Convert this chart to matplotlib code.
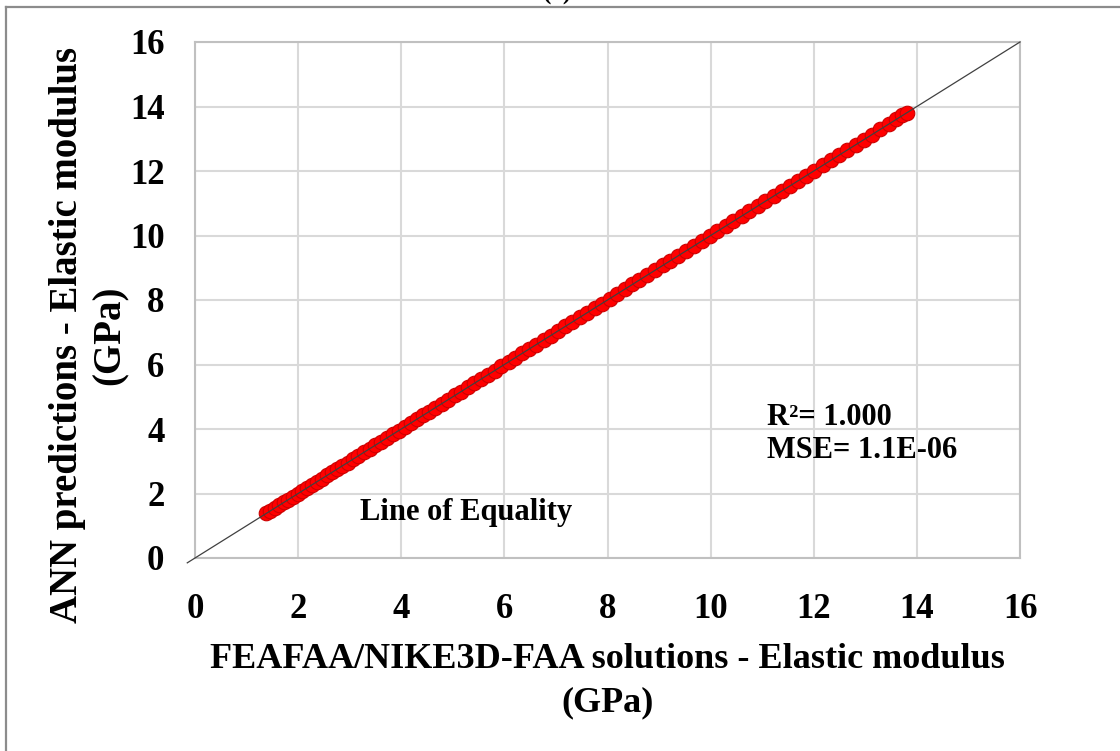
import matplotlib
matplotlib.use("Agg")
import matplotlib.pyplot as plt
from matplotlib.lines import Line2D

plt.rcParams['font.family'] = ['Liberation Serif', 'DejaVu Serif']
plt.rcParams['font.weight'] = 'bold'

# FE solutions vs ANN predictions of elastic modulus (GPa)
fe_modulus = [1.38, 1.46, 1.55, 1.63, 1.72, 1.81, 1.90, 1.99, 2.08, 2.18, 2.27,
              2.37, 2.46, 2.56, 2.66, 2.76, 2.86, 2.96, 3.07, 3.17, 3.28, 3.39,
              3.50, 3.61, 3.72, 3.84, 3.95, 4.07, 4.18, 4.30, 4.42, 4.54, 4.66,
              4.79, 4.91, 5.04, 5.16, 5.29, 5.42, 5.55, 5.68, 5.81, 5.94, 6.08,
              6.21, 6.35, 6.48, 6.62, 6.76, 6.90, 7.04, 7.18, 7.32, 7.46, 7.60,
              7.75, 7.89, 8.04, 8.18, 8.33, 8.48, 8.62, 8.77, 8.92, 9.07, 9.22,
              9.37, 9.52, 9.67, 9.83, 9.98, 10.13, 10.29, 10.44, 10.60, 10.75,
              10.91, 11.06, 11.22, 11.38, 11.53, 11.69, 11.85, 12.01, 12.17,
              12.33, 12.49, 12.65, 12.81, 12.97, 13.13, 13.29, 13.45, 13.60,
              13.72, 13.80]
ann_modulus = [1.381, 1.459, 1.551, 1.629, 1.721, 1.809, 1.901, 1.989, 2.081,
               2.179, 2.271, 2.369, 2.461, 2.559, 2.661, 2.759, 2.861, 2.959,
               3.071, 3.169, 3.281, 3.389, 3.501, 3.609, 3.721, 3.839, 3.951,
               4.069, 4.181, 4.299, 4.421, 4.539, 4.661, 4.789, 4.911, 5.039,
               5.161, 5.289, 5.421, 5.549, 5.681, 5.809, 5.941, 6.079, 6.211,
               6.349, 6.481, 6.619, 6.761, 6.899, 7.041, 7.179, 7.321, 7.459,
               7.601, 7.749, 7.891, 8.039, 8.181, 8.329, 8.481, 8.619, 8.771,
               8.919, 9.071, 9.219, 9.371, 9.519, 9.671, 9.829, 9.981, 10.129,
               10.291, 10.439, 10.601, 10.749, 10.911, 11.059, 11.221, 11.379,
               11.531, 11.689, 11.851, 12.009, 12.171, 12.329, 12.491, 12.649,
               12.811, 12.969, 13.131, 13.289, 13.451, 13.599, 13.721, 13.799]

ticks = [0, 2, 4, 6, 8, 10, 12, 14, 16]
r2_text = "R\u00b2= 1.000"
mse_text = "MSE= 1.1E-06"

fig = plt.figure(figsize=(11.2, 7.51), dpi=100)
ax = fig.add_axes([195 / 1120, 1 - 558 / 751, 825 / 1120, 516 / 751])

# frame around the whole figure (top and left edges only)
fig.add_artist(Line2D([6 / 1120, 1.0], [1 - 7 / 751, 1 - 7 / 751],
                      transform=fig.transFigure, color='#8c8c8c', lw=1.6))
fig.add_artist(Line2D([6 / 1120, 6 / 1120], [0, 1 - 7 / 751],
                      transform=fig.transFigure, color='#8c8c8c', lw=1.6))

ax.set_xlim(0, 16)
ax.set_ylim(0, 16)
ax.set_xticks(ticks)
ax.set_yticks(ticks)
ax.grid(True, color='#d9d9d9', lw=1.5)
ax.set_axisbelow(True)
for s in ax.spines.values():
    s.set_color('#c0c0c0')
    s.set_linewidth(1.5)
ax.tick_params(length=0, labelsize=25, pad=22)
ax.tick_params(axis='x', pad=25)

# line of equality
ax.plot([-0.15, 16], [-0.15, 16], color='#404040', lw=0.9, zorder=3, clip_on=False)
ax.scatter(fe_modulus, ann_modulus, s=110, color='#ff0000', edgecolors='#cc0000',
           linewidths=0.8, zorder=2)

ax.text(3.2, 1.18, "Line of Equality", fontsize=22, fontweight='bold')
ax.text(11.09, 4.12, r2_text, fontsize=22, fontweight='bold')
ax.text(11.09, 3.1, mse_text, fontsize=22, fontweight='bold')

ax.set_xlabel("FEAFAA/NIKE3D-FAA solutions - Elastic modulus\n(GPa)",
              fontsize=26, fontweight='bold', linespacing=1.4)
ax.xaxis.set_label_coords(0.5, -0.165)
ax.set_ylabel("ANN predictions - Elastic modulus\n(GPa)",
              fontsize=28, fontweight='bold', linespacing=1.2)
ax.yaxis.set_label_coords(-0.081, 0.432)

# panel tag, mostly above the top edge
fig.text(558 / 1120, 1 + 18 / 751, "(a)", fontsize=18, ha='center', va='top')

fig.savefig("out.png", dpi=100)
